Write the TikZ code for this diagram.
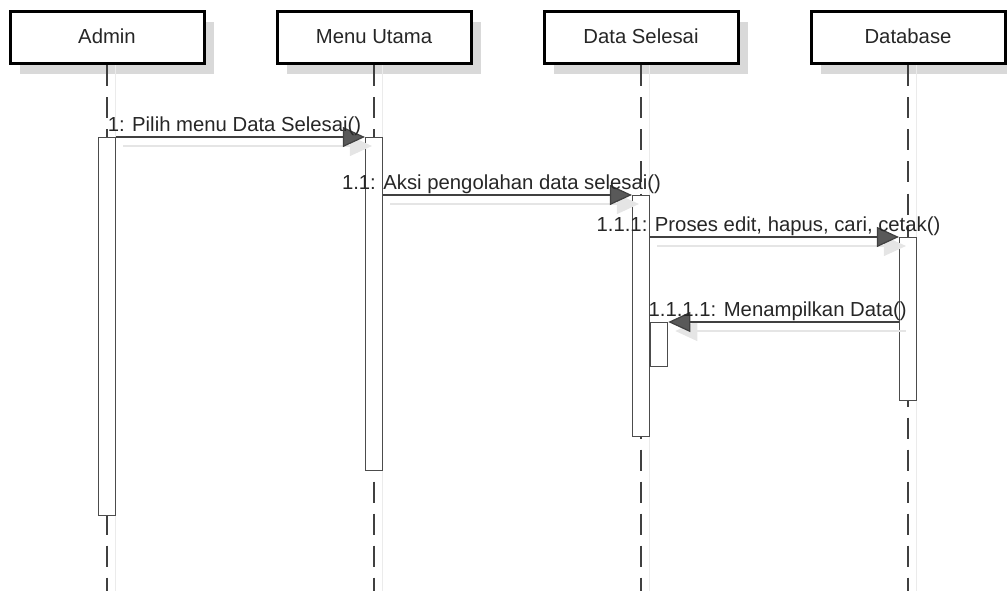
\documentclass[tikz,border=0pt]{standalone}
\usepackage{fontspec}
\setmainfont{Liberation Sans}
\usepackage{tikz}
\usetikzlibrary{arrows.meta,positioning,shadows}

\begin{document}
\begin{tikzpicture}[
x=1pt,y=-1pt,
node distance=70pt,
font=\fontsize{20.3}{23}\selectfont,
obj/.style={draw,line width=3pt,fill=white,minimum width=194pt,minimum height=52pt,
  text height=14.5pt,text depth=4pt,text=black!85,
  drop shadow={shadow xshift=10pt,shadow yshift=-10pt,fill=black!15,opacity=1}},
lifeline/.style={black!75,line width=1.4pt,dash pattern=on 21pt off 11pt,
  preaction={draw=black!8,solid,line width=1pt,transform canvas={shift={(8pt,0pt)}}}},
bar/.style={draw=black!70,fill=white,line width=1.2pt,minimum width=17pt,inner sep=0pt,anchor=north},
msg/.style={draw=black!75,line width=1.2pt,-{Triangle[length=22pt,width=20pt,fill=black!65]},
  preaction={draw=black!10,line width=1.2pt,-{Triangle[length=22pt,width=20pt,fill=black!10]},
  transform canvas={shift={(7pt,-9pt)}}}},
lbl/.style={midway,above,inner sep=1pt,xshift=-6pt,text=black!85}
]
\useasboundingbox (0,0) rectangle (1007,591);

% objects
\node[obj] (admin) at (107,38) {Admin};
\node[obj,right=of admin] (menu) {Menu Utama};
\node[obj,right=of menu] (data) {Data Selesai};
\node[obj,right=of data] (db) {Database};

% lifelines
\foreach \o in {admin,menu,data,db}
  \draw[lifeline] (\o.south) -- ++(0,527);

% activations
\node[bar,minimum height=378pt] (actAdmin) at (admin.south |- 0,137) {};
\node[bar,minimum height=333pt] (actMenu) at (menu.south |- 0,137) {};
\node[bar,minimum height=241pt] (actData) at (data.south |- 0,195) {};
\node[bar,minimum height=163pt] (actDb) at (db.south |- 0,237) {};
\node[bar,minimum height=44pt,anchor=north west] (actSelf) at (actData.east |- 0,322) {};

% messages
\draw[msg] (actAdmin.north east) -- (actMenu.north west)
  node[lbl] {1: Pilih menu Data Selesai()};
\draw[msg] (actMenu.east |- actData.north) -- (actData.north west)
  node[lbl] {1.1: Aksi pengolahan data selesai()};
\draw[msg] (actData.east |- actDb.north) -- (actDb.north west)
  node[lbl] {1.1.1: Proses edit, hapus, cari, cetak()};
\draw[msg] (actDb.west |- actSelf.north) -- (actSelf.north east)
  node[lbl] {1.1.1.1: Menampilkan Data()};
\end{tikzpicture}
\end{document}
